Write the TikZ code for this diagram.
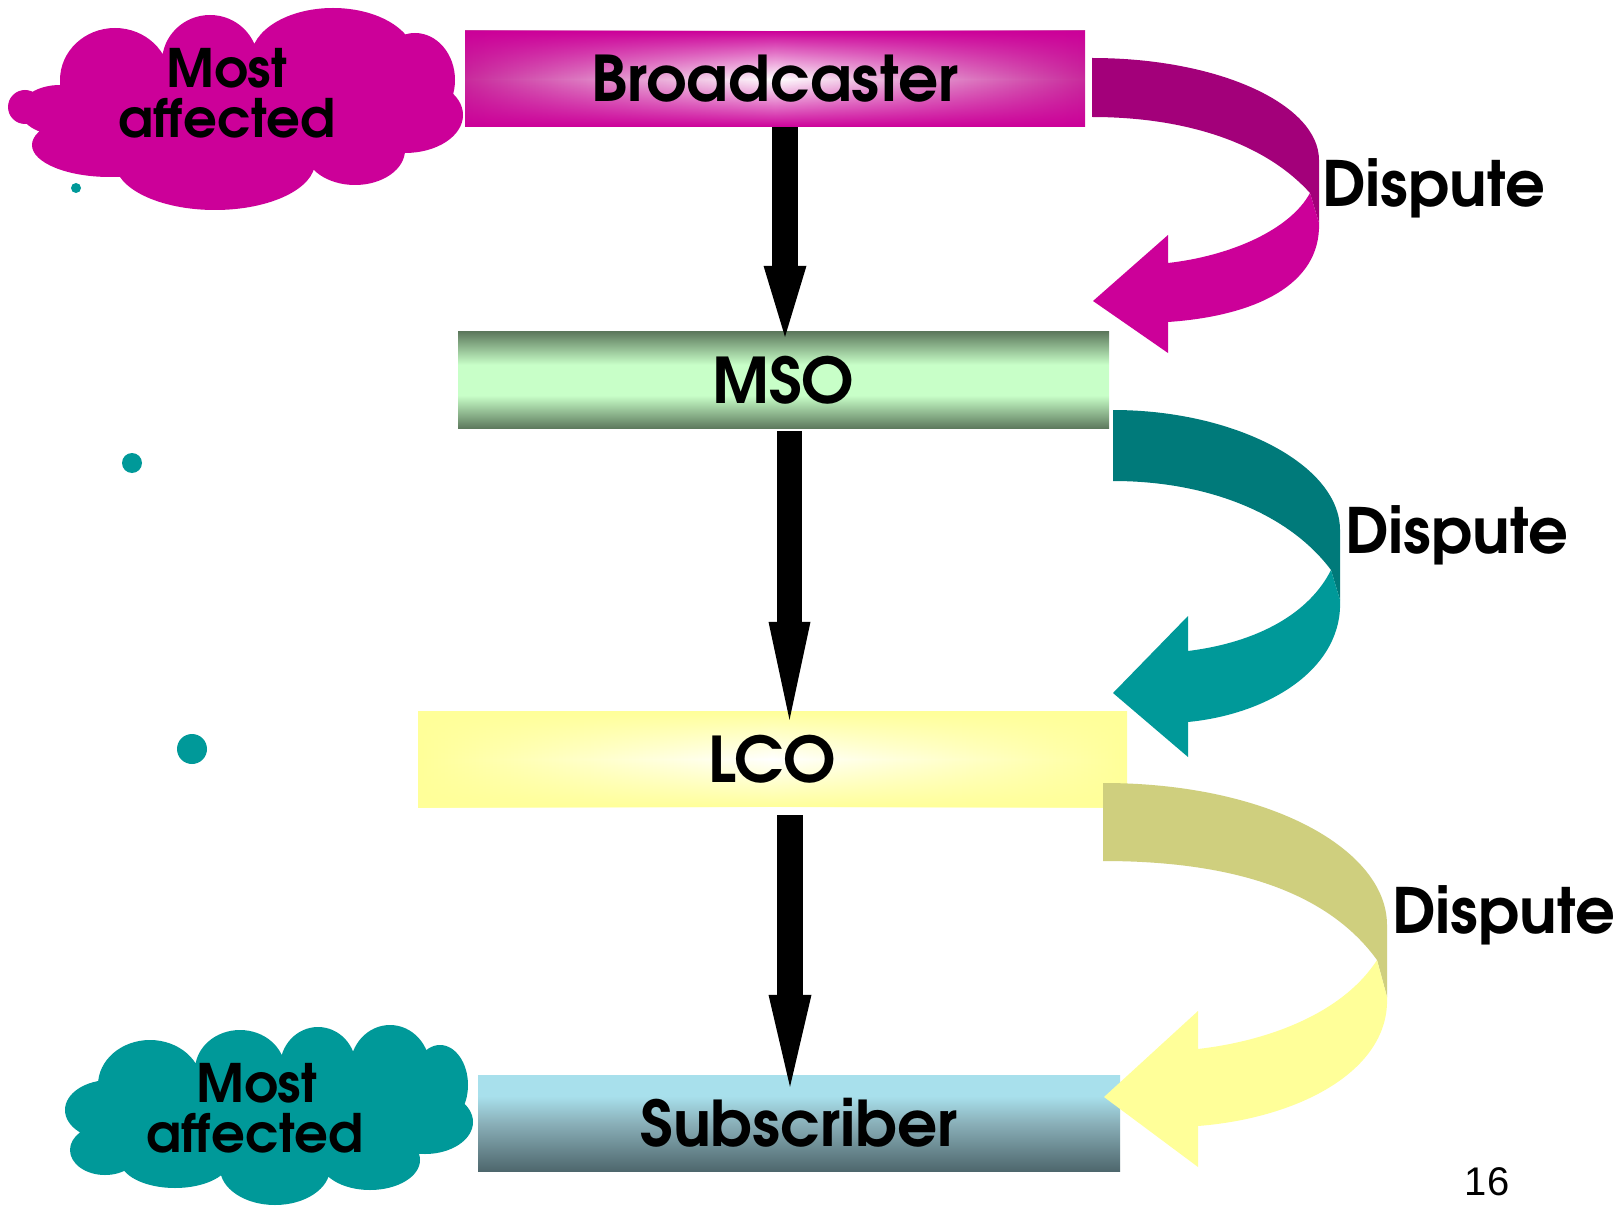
\documentclass[tikz,border=0pt]{standalone}
\usepackage{fontspec}
\newfontfamily\gothic{texgyreadventor-bold.otf}
\newfontfamily\arialf{Liberation Sans}
\usetikzlibrary{arrows.meta,fadings}
\definecolor{bmag}{HTML}{CC0099}
\definecolor{bmagS}{HTML}{C82A9C}
\definecolor{msoD}{HTML}{5E7A5E}
\definecolor{msoL}{HTML}{C8FFC8}
\definecolor{lcoE}{HTML}{FFFF99}
\definecolor{subD}{HTML}{4E676D}
\definecolor{subM}{HTML}{8AB0B9}
\definecolor{subL}{HTML}{A8E0EC}
\definecolor{magC}{HTML}{CC0099}
\definecolor{tealC}{HTML}{009999}
\definecolor{aOneD}{HTML}{A3007A}
\definecolor{aOneL}{HTML}{CC0099}
\definecolor{aTwoD}{HTML}{007A7A}
\definecolor{aTwoL}{HTML}{009999}
\definecolor{aThrD}{HTML}{CFCF7E}
\definecolor{aThrL}{HTML}{FFFF99}
\tikzfading[name=midclear, top color=transparent!0, bottom color=transparent!0, middle color=transparent!100]
\pgfdeclareverticalshading{msoV}{100bp}{color(0bp)=(msoD); color(25bp)=(msoD); color(42bp)=(msoL); color(58bp)=(msoL); color(75bp)=(msoD); color(100bp)=(msoD)}
\pgfdeclareverticalshading{subV}{100bp}{color(0bp)=(subD); color(25bp)=(subD); color(50bp)=(subM); color(64bp)=(subL); color(75bp)=(subL); color(100bp)=(subL)}
\begin{document}
\begin{tikzpicture}[x=1pt,y=-1pt,
  box/.style={rectangle, inner sep=0pt, minimum width=#1, minimum height=96pt,
    font=\gothic\fontsize{63}{70}\selectfont},
  bcast/.style={left color=bmagS, right color=bmagS, middle color=white,
    path picture={\fill[bmag, path fading=midclear] (path picture bounding box.south west) rectangle (path picture bounding box.north east);}},
  lcofill/.style={left color=lcoE, right color=lcoE, middle color=white,
    path picture={\fill[lcoE, path fading=midclear] (path picture bounding box.south west) rectangle (path picture bounding box.north east);}},
  msofill/.style={shade, shading=msoV},
  subfill/.style={shade, shading=subV},
  blk/.style={black, line width=26pt},
  lbl/.style={inner sep=0pt, anchor=base west, font=\gothic\fontsize{62.5}{70}\selectfont},
  ctxt/.style={inner sep=0pt, anchor=base, font=\gothic\fontsize{53}{60}\selectfont}
]
\useasboundingbox (0,0) rectangle (1620,1206);
\fill[white] (0,0) rectangle (1620,1206);

% magenta cloud
\fill[magC]
  (240,110) ellipse [x radius=170pt, y radius=60pt]
  (115,80) ellipse [x radius=55pt, y radius=52pt]
  (210,62) ellipse [x radius=48pt, y radius=47pt]
  (333,58) ellipse [x radius=82pt, y radius=50pt]
  (415,80) ellipse [x radius=40pt, y radius=47pt]
  (405,115) ellipse [x radius=58pt, y radius=38pt]
  (355,150) ellipse [x radius=50pt, y radius=35pt]
  (215,162) ellipse [x radius=100pt, y radius=48pt]
  (110,145) ellipse [x radius=78pt, y radius=32pt]
  (60,110) ellipse [x radius=40pt, y radius=25pt]
  (25,107) circle [radius=17pt];
% teal cloud
\fill[tealC]
  (265,1115) ellipse [x radius=170pt, y radius=55pt]
  (150,1085) ellipse [x radius=52pt, y radius=45pt]
  (240,1070) ellipse [x radius=45pt, y radius=40pt]
  (318,1067) ellipse [x radius=38pt, y radius=40pt]
  (390,1068) ellipse [x radius=40pt, y radius=43pt]
  (440,1085) ellipse [x radius=28pt, y radius=40pt]
  (425,1122) ellipse [x radius=48pt, y radius=32pt]
  (370,1160) ellipse [x radius=50pt, y radius=30pt]
  (275,1168) ellipse [x radius=55pt, y radius=37pt]
  (175,1160) ellipse [x radius=55pt, y radius=28pt]
  (105,1150) ellipse [x radius=35pt, y radius=25pt]
  (110,1110) ellipse [x radius=45pt, y radius=30pt];

\node[ctxt] (c1a) at (227,88) {Most};
\node[ctxt] (c1b) at (227,138) {affected};
\node[ctxt] (c2a) at (257,1102) {Most};
\node[ctxt] (c2b) at (255,1152) {affected};

% dots
\fill[tealC] (76,188) circle [radius=5pt];
\fill[tealC] (132,463) circle [radius=10pt];
\fill[tealC] (192,749) circle [radius=15pt];

% boxes
\node[box=620pt, bcast] (broad) at (775,79) {Broadcaster};
\node[box=651pt, msofill] (mso) at (783.5,380) {MSO};
\node[box=709pt, lcofill] (lco) at (772.5,759) {LCO};
\node[box=642pt, subfill] (sub) at (799,1123) {Subscriber};

% black arrows (tips reach slightly into the next box)
\coordinate (t1) at ([xshift=10pt]broad.south |- mso.north);
\coordinate (t2) at ([xshift=6pt]mso.south |- lco.north);
\coordinate (t3) at ([xshift=17.5pt]lco.south |- sub.north);
\draw[blk, -{Triangle[length=71pt,width=43pt,line width=0pt]}] ([xshift=10pt]broad.south) -- ([yshift=-5pt]t1);
\draw[blk, line width=25pt, -{Triangle[length=98pt,width=42pt,line width=0pt]}] ([xshift=6pt,yshift=-3pt]mso.south) -- ([yshift=-9pt]t2);
\draw[blk, -{Triangle[length=92pt,width=43pt,line width=0pt]}] ([xshift=17.5pt,yshift=-8pt]lco.south) -- ([yshift=-12pt]t3);

% curved arrow 1
\fill[aOneD] (1092,58) .. controls (1220,58) and (1319,105) .. (1319,160) -- (1319,223) -- (1310,193)
  .. controls (1262,140) and (1180,117) .. (1092,117) -- cycle;
\fill[aOneL] (1310,193) -- (1319,223) .. controls (1321,285) and (1255,316) .. (1168,322) -- (1168,353)
  -- (1093,301) -- (1168,235) -- (1168,263) .. controls (1230,256) and (1290,230) .. (1310,193) -- cycle;
% curved arrow 2
\fill[aTwoD] (1113,410) .. controls (1235,410) and (1340,465) .. (1340,530) -- (1340,600) -- (1331,570)
  .. controls (1290,515) and (1210,481) .. (1113,481) -- cycle;
\fill[aTwoL] (1331,570) -- (1340,600) .. controls (1343,668) and (1270,714) .. (1188,722) -- (1188,757)
  -- (1113,693) -- (1188,616) -- (1188,651) .. controls (1260,642) and (1310,612) .. (1331,570) -- cycle;
% curved arrow 3
\fill[aThrD] (1103,783) .. controls (1270,783) and (1387,850) .. (1387,925) -- (1387,997) -- (1377,960)
  .. controls (1330,895) and (1240,861) .. (1103,861) -- cycle;
\fill[aThrL] (1377,960) -- (1387,997) .. controls (1390,1070) and (1300,1118) .. (1198,1126) -- (1198,1167)
  -- (1104,1097) -- (1198,1011) -- (1198,1049) .. controls (1275,1040) and (1345,1010) .. (1377,960) -- cycle;

% labels
\node[lbl] (d1) at (1322,207) {Dispute};
\node[lbl] (d2) at (1345,553) {Dispute};
\node[lbl] (d3) at (1392,933) {Dispute};
\node[inner sep=0pt, anchor=base, font=\arialf\fontsize{40}{40}\selectfont] (pg) at (1487,1195) {16};
\end{tikzpicture}
\end{document}
